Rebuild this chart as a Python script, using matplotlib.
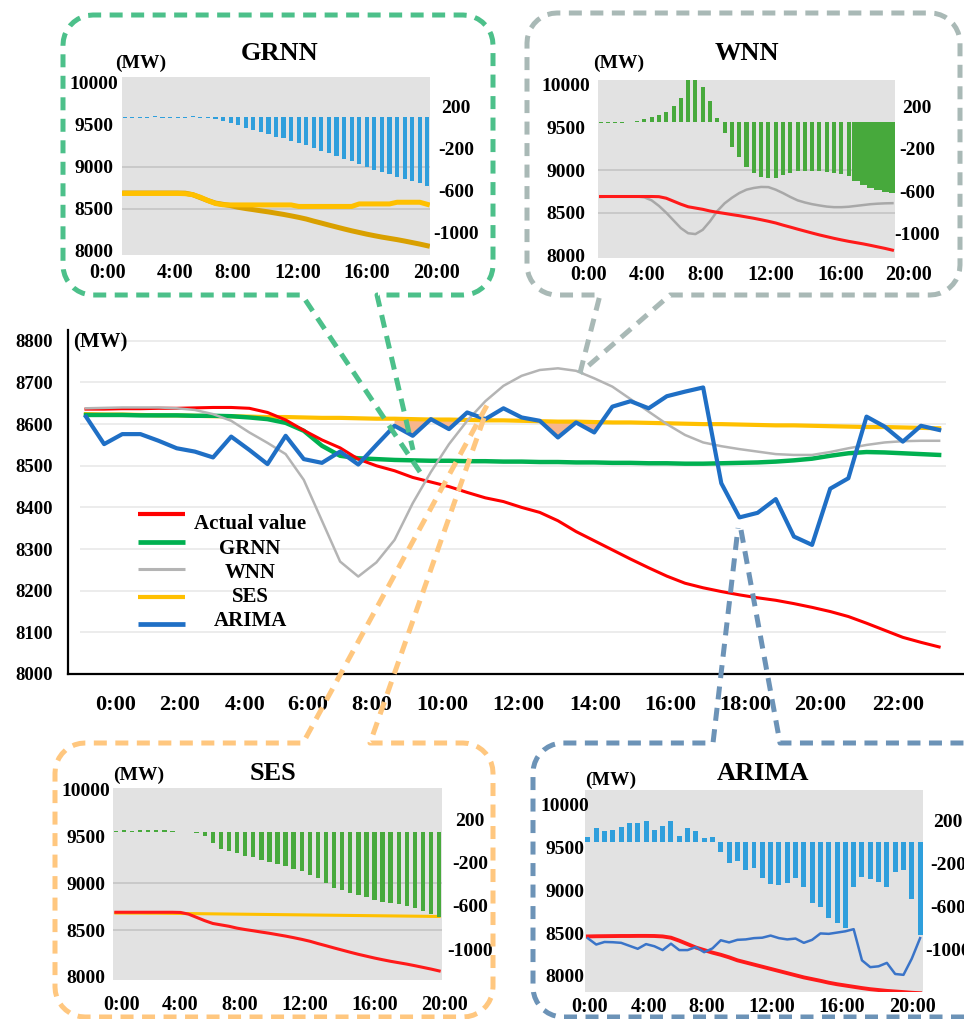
import numpy as np
import matplotlib.pyplot as plt
from matplotlib.transforms import ScaledTranslation

# ---- main chart: half-hourly values 0:00 - 23:30 (MW) ----
actual = [8636, 8636, 8637, 8637, 8638, 8638, 8639, 8640, 8640, 8638,
          8628, 8610, 8585, 8562, 8543, 8516, 8500, 8488, 8472, 8461,
          8450, 8436, 8423, 8414, 8400, 8388, 8368, 8342, 8320, 8298,
          8276, 8255, 8235, 8218, 8207, 8198, 8190, 8183, 8177, 8169,
          8160, 8150, 8138, 8122, 8105, 8088, 8076, 8065]
grnn = [8622, 8622, 8622, 8621, 8621, 8621, 8620, 8620, 8619, 8616,
        8612, 8603, 8584, 8548, 8524, 8518, 8516, 8514, 8513, 8512,
        8512, 8511, 8511, 8510, 8510, 8509, 8509, 8508, 8508, 8507,
        8507, 8506, 8506, 8505, 8505, 8506, 8507, 8508, 8510, 8513,
        8517, 8524, 8530, 8533, 8532, 8530, 8528, 8526]
wnn = [8638, 8639, 8640, 8640, 8640, 8638, 8634, 8624, 8608, 8580,
       8555, 8528, 8466, 8368, 8270, 8234, 8268, 8322, 8410, 8485,
       8552, 8608, 8655, 8692, 8716, 8730, 8734, 8728, 8710, 8690,
       8660, 8630, 8600, 8574, 8556, 8547, 8540, 8534, 8528, 8526,
       8526, 8533, 8542, 8550, 8556, 8559, 8560, 8560]
ses = [8624, 8623, 8623, 8622, 8621, 8621, 8620, 8619, 8619, 8618,
       8617, 8617, 8616, 8615, 8615, 8614, 8613, 8613, 8612, 8611,
       8611, 8610, 8609, 8609, 8608, 8607, 8606, 8606, 8605, 8604,
       8604, 8603, 8602, 8601, 8600, 8600, 8599, 8598, 8597, 8597,
       8596, 8595, 8594, 8593, 8593, 8592, 8591, 8590]
arima = [8618, 8552, 8576, 8576, 8560, 8542, 8534, 8520, 8570, 8538,
         8504, 8572, 8516, 8507, 8534, 8503, 8550, 8596, 8572, 8612,
         8588, 8628, 8612, 8638, 8616, 8608, 8568, 8604, 8580, 8642,
         8655, 8638, 8667, 8678, 8688, 8458, 8376, 8387, 8420, 8330,
         8310, 8445, 8470, 8618, 8594, 8558, 8596, 8586]

main_labels = ["0:00", "2:00", "4:00", "6:00", "8:00", "10:00",
               "12:00", "14:00", "16:00", "18:00", "20:00", "22:00"]
main_label_pos = [1.65, 5.18, 8.76, 12.23, 15.76, 19.61,
                  23.8, 28.04, 32.18, 36.31, 40.44, 44.74]

# ---- inset charts: half-hourly values 0:00 - 20:00 ----
inset_actual = [8690, 8690, 8690, 8690, 8690, 8690, 8690, 8690, 8688, 8670,
                8635, 8600, 8570, 8555, 8540, 8520, 8505, 8492, 8478, 8465,
                8450, 8435, 8418, 8400, 8380, 8355, 8332, 8308, 8285, 8262,
                8240, 8220, 8200, 8182, 8165, 8150, 8135, 8118, 8100, 8082, 8062]
grnn_pred = [8685, 8685, 8685, 8685, 8685, 8685, 8685, 8685, 8682, 8670,
             8640, 8600, 8565, 8550, 8548, 8548, 8548, 8548, 8548, 8548,
             8548, 8548, 8548, 8530, 8530, 8530, 8530, 8530, 8530, 8530,
             8530, 8560, 8560, 8560, 8560, 8560, 8580, 8580, 8580, 8580, 8555]
grnn_err = [-8, -8, -8, -6, 10, -8, -8, -8, -8, 12,
            -6, -10, -18, -40, -57, -80, -105, -125, -145, -165,
            -185, -200, -225, -248, -268, -290, -320, -345, -370, -395,
            -420, -450, -470, -500, -520, -545, -565, -585, -605, -625, -655]
wnn_pred = [8685, 8688, 8690, 8690, 8690, 8690, 8680, 8645, 8580, 8500,
            8410, 8320, 8260, 8250, 8300, 8400, 8520, 8610, 8675, 8730,
            8770, 8790, 8802, 8800, 8770, 8730, 8685, 8645, 8620, 8600,
            8585, 8572, 8565, 8565, 8570, 8580, 8590, 8600, 8606, 8610, 8612]
wnn_err = [-3, -3, -3, -2, 0, 15, 30, 50, 70, 100,
           150, 230, 400, 420, 330, 200, 40, -100, -231, -330,
           -420, -480, -516, -531, -525, -500, -478, -465, -460, -460,
           -466, -472, -480, -490, -505, -560, -594, -626, -642, -658, -673]
ses_pred = [8682, 8682, 8681, 8681, 8680, 8680, 8679, 8678, 8677, 8676,
            8675, 8674, 8673, 8672, 8671, 8670, 8669, 8668, 8667, 8666,
            8665, 8664, 8663, 8662, 8661, 8660, 8659, 8658, 8657, 8656,
            8655, 8654, 8653, 8652, 8651, 8650, 8649, 8648, 8647, 8646, 8645]
ses_err = [15, 18, 15, 20, 22, 20, 18, 10, 6, 3,
           -5, -35, -100, -150, -175, -195, -215, -232, -252, -270,
           -290, -310, -335, -360, -395, -425, -470, -510, -535, -560,
           -578, -600, -625, -640, -655, -665, -680, -700, -730, -755, -780]
arima_in_actual = [8460, 8462, 8463, 8464, 8465, 8465, 8466, 8466, 8465, 8460,
                   8445, 8410, 8370, 8330, 8300, 8270, 8245, 8215, 8180, 8155,
                   8130, 8105, 8080, 8055, 8030, 8005, 7980, 7960, 7940, 7918,
                   7900, 7885, 7870, 7855, 7842, 7832, 7822, 7815, 7808, 7800, 7795]
arima_in_pred = [8438, 8365, 8395, 8392, 8385, 8350, 8315, 8370, 8345, 8300,
                 8375, 8300, 8300, 8335, 8275, 8320, 8415, 8390, 8420, 8425,
                 8440, 8445, 8470, 8440, 8425, 8435, 8385, 8420, 8495, 8490,
                 8505, 8520, 8545, 8180, 8100, 8110, 8150, 8020, 8010, 8200, 8440]
arima_err = [40, 130, 100, 105, 135, 170, 172, 195, 110, 150,
             195, 55, 130, 100, 35, 40, -95, -200, -175, -260,
             -240, -340, -390, -400, -380, -340, -425, -570, -605, -710,
             -760, -805, -420, -330, -345, -375, -420, -285, -265, -530, -870]

inset_labels = ["0:00", "4:00", "8:00", "12:00", "16:00", "20:00"]
mw_ticks = [8000, 8500, 9000, 9500, 10000]
err_ticks = [-1000, -600, -200, 200]

plt.rcParams["font.family"] = "Liberation Serif"
plt.rcParams["font.weight"] = "bold"

W, H = 964, 1019
fig = plt.figure(figsize=(W / 100, H / 100), dpi=100)


def px_rect(l, t, r, b):
    return [l / W, 1 - b / H, (r - l) / W, (b - t) / H]


def ftext(x, y, s, size, **kw):
    fig.text(x / W, 1 - y / H, s, fontsize=size, fontweight="bold",
             va="center", **kw)


# ---- main chart ----
x = np.arange(len(actual))
ax = fig.add_axes(px_rect(68, 330, 964, 674))
ax.set_xlim(-0.99, 48.37)
ax.set_ylim(8000, 8826)
yt = np.arange(8000, 8801, 100)
ax.hlines(yt[1:], -0.33, 47.4, color="#e9e9e9", lw=1.2, zorder=0)
a_arr, s_arr = np.array(arima), np.array(ses)
ax.fill_between(x, ses, arima, where=(a_arr < s_arr) & (x >= 17) & (x <= 29),
                interpolate=True, color="#f8b68c", lw=0, zorder=1)
ax.plot(x, ses, color="#ffc000", lw=3, zorder=2)
ax.plot(x, grnn, color="#00b050", lw=3.2, zorder=3)
ax.plot(x, actual, color="#ff0000", lw=2.2, zorder=4)
ax.plot(x, wnn, color="#b4b4b4", lw=1.8, zorder=5)
ax.plot(x, arima, color="#1f6fc5", lw=3, zorder=6)

for side in ["top", "right"]:
    ax.spines[side].set_visible(False)
for side in ["left", "bottom"]:
    ax.spines[side].set_linewidth(1.6)
ax.set_yticks(yt, [str(v) for v in yt])
ax.set_xticks(main_label_pos, main_labels)
ax.tick_params(axis="y", length=0, labelsize=13.5, pad=11)
ax.tick_params(axis="x", length=0, labelsize=16, pad=15)
ftext(73, 342, "(MW)", 15)


# ---- insets ----
def inset(rect, left_lim, right_lim, lpad, rpad, rshift, title, title_xy,
          mw_xy, lab_x, lab_y, grid=True):
    a = fig.add_axes(px_rect(*rect))
    a.set_facecolor("#e2e2e2")
    a.set_xlim(-0.35, 40.35)
    a.set_ylim(*left_lim)
    for s in a.spines.values():
        s.set_visible(False)
    a.set_xticks([])
    a.set_yticks(mw_ticks, [str(v) for v in mw_ticks])
    a.tick_params(axis="y", length=0, labelsize=14, pad=lpad * 0.72)
    for lab in a.get_yticklabels():
        lab.set_ha("center")
    if grid:
        a.hlines([8500, 9000], -0.35, 40.35, color="#c4c4c4", lw=1.2, zorder=0)

    b = a.twinx()
    b.set_ylim(*right_lim)
    for s in b.spines.values():
        s.set_visible(False)
    b.set_yticks(err_ticks, [str(v) for v in err_ticks])
    b.tick_params(axis="y", length=0, labelsize=14, pad=rpad * 0.72)
    shift = ScaledTranslation(0, -rshift / 100, fig.dpi_scale_trans)
    for lab in b.get_yticklabels():
        lab.set_ha("center")
        lab.set_transform(lab.get_transform() + shift)

    ftext(*title_xy, title, 19, ha="center")
    ftext(*mw_xy, "(MW)", 14, ha="left")
    for lx, s in zip(lab_x, inset_labels):
        ftext(lx, lab_y, s, 14.5, ha="center")
    return a, b


xi = np.arange(len(inset_actual))

# GRNN
a, b = inset((122, 77, 430, 255), (7952, 10071), (-1311, 381), 28, 26, 10.5,
             "GRNN", (280, 53), (115, 63), [108, 175, 233, 298, 367, 436], 273)
b.bar(xi, grnn_err, width=0.55, color="#2f9fdc")
a.plot(xi, inset_actual, color="#d9a000", lw=3.6)
a.plot(xi, grnn_pred, color="#ffc000", lw=3.6)

# WNN
a, b = inset((598, 80, 895, 258), (7970, 10054), (-1286, 401), 32, 22, 5.5,
             "WNN", (747, 53), (593, 63), [589, 647, 706, 771, 841, 909], 275)
b.bar(xi, wnn_err, width=[0.55] * 35 + [1.0] * 6, color="#47a93c")
a.plot(xi, wnn_pred, color="#a8a8a8", lw=1.8)
a.plot(xi, inset_actual, color="#ff1a1a", lw=2.2)

# SES
a, b = inset((113, 788, 442, 980), (7965, 10020), (-1364, 409), 27, 28, 8.5,
             "SES", (273, 773), (113, 775), [122, 180, 240, 305, 375, 445], 1005)
b.bar(xi, ses_err, width=0.55, color="#47a93c")
a.plot(xi, ses_pred, color="#ffc000", lw=2.2)
a.plot(xi, inset_actual, color="#ff1a1a", lw=2.2)

# ARIMA
a, b = inset((585, 790, 923, 992), (7809, 10175), (-1398, 481), 20, 25, 0,
             "ARIMA", (763, 773), (585, 780), [590, 649, 707, 772, 842, 912], 1007,
             grid=False)
b.bar(xi, arima_err, width=0.6, color="#2f9fdc")
a.plot(xi, arima_in_actual, color="#ff1a1a", lw=2.8)
a.plot(xi, arima_in_pred, color="#3a74c8", lw=1.8)

# ---- overlay: callout boxes, connectors and legend (pixel coordinates) ----
ov = fig.add_axes([0, 0, 1, 1], zorder=10)
ov.set_xlim(0, W)
ov.set_ylim(H, 0)
ov.axis("off")
ov.patch.set_visible(False)


def dashed(pts, color):
    xs, ys = zip(*pts)
    ov.plot(xs, ys, color=color, lw=3.6, dashes=(2.6, 1.7))


def callout(l, t, r, bt, gap, side, ends, color, rad=30, open_right=False):
    def arc(cx, cy, a0, a1):
        ang = np.radians(np.linspace(a0, a1, 10))
        return list(zip(cx + rad * np.cos(ang), cy + rad * np.sin(ang)))
    bl = arc(l + rad, bt - rad, 90, 180)
    tl = arc(l + rad, t + rad, 180, 270)
    tr = arc(r - rad, t + rad, 270, 360)
    br = arc(r - rad, bt - rad, 0, 90)
    xa, xb = gap
    ea, eb = ends
    if side == "bottom":
        dashed([ea, (xa, bt)] + bl + tl + tr + br + [(xb, bt), eb], color)
    elif open_right:
        # right side of this box runs past the figure edge
        dashed([eb, (xb, t), (W, t)], color)
        dashed([(W, bt)] + bl + tl + [(xa, t), ea], color)
    else:
        dashed([eb, (xb, t)] + tr + br + bl + tl + [(xa, t), ea], color)


callout(63, 15, 493, 295, (302, 377), "bottom", ((420, 472), (413, 450)), "#4cc08a")
callout(527, 13, 960, 295, (600, 670), "bottom", ((580, 373), (580, 373)), "#a9b9b6")
callout(55, 743, 493, 1017, (303, 370), "top", ((491, 398), (484, 418)), "#ffc77f")
callout(533, 743, 995, 1017, (713, 780), "top", ((738, 528), (741, 530)), "#6c93b7",
        open_right=True)

legend_names = ["Actual value", "GRNN", "WNN", "SES", "ARIMA"]
legend_colors = ["#ff0000", "#00b050", "#b4b4b4", "#ffc000", "#1f6fc5"]
legend_lw = [3.0, 3.4, 2.2, 3.0, 3.4]
line_y = [514, 542, 569, 597, 624]
text_y = [524, 549, 573, 597, 621]
for name, c, lw, ly, ty in zip(legend_names, legend_colors, legend_lw, line_y, text_y):
    ov.plot([138, 185], [ly, ly], color=c, lw=lw, solid_capstyle="butt")
    ov.text(250, ty, name, fontsize=15, fontweight="bold", ha="center", va="center")

fig.savefig("out.png", dpi=100)
